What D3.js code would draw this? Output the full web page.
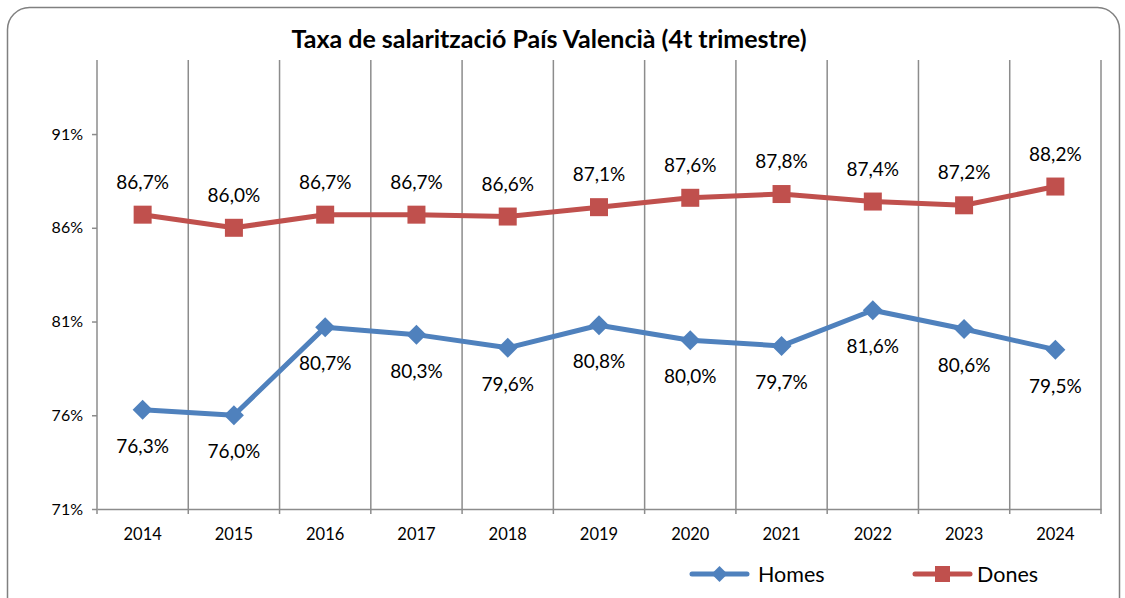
<!DOCTYPE html>
<html>
<head>
<meta charset="utf-8">
<script src="https://cdn.jsdelivr.net/npm/d3@7"></script>
<style>
  body { margin: 0; background: #fff; }
  svg { display: block; font-family: Lato, "Open Sans", sans-serif; }
</style>
</head>
<body>
<svg id="chart" width="1125" height="598"></svg>
<script>
// data
const years = ['2014', '2015', '2016', '2017', '2018', '2019', '2020', '2021', '2022', '2023', '2024']
const homes = [76.3, 76.0, 80.7, 80.3, 79.6, 80.8, 80.0, 79.7, 81.6, 80.6, 79.5]
const dones = [86.7, 86.0, 86.7, 86.7, 86.6, 87.1, 87.6, 87.8, 87.4, 87.2, 88.2]
const yTicks = [71, 76, 81, 86, 91]
const title = 'Taxa de salarització País Valencià (4t trimestre)'

const blue = '#4f81bd', red = '#c0504d', grid = '#8c8c8c'

let svg = d3.select('svg#chart')

// outer frame
svg.append('rect')
  .attr('x', 7.5).attr('y', 7.5)
  .attr('width', 1112).attr('height', 620)
  .attr('rx', 22)
  .attr('fill', 'none')
  .attr('stroke', '#808080')
  .attr('stroke-width', 1.5)

svg.append('text')
  .attr('x', 549).attr('y', 48)
  .attr('text-anchor', 'middle')
  .attr('font-weight', 'bold')
  .attr('font-size', 25)
  .text(title)

let x = d3.scaleBand().domain(years).range([97, 1101])
let y = d3.scaleLinear().domain([71, 94.95]).range([509, 60])
let cx = d => x(d) + x.bandwidth() / 2

// vertical grid lines at category boundaries
svg.append('g')
  .selectAll('line')
  .data(years)
  .enter()
  .append('line')
  .attr('x1', d => x(d) + x.bandwidth())
  .attr('x2', d => x(d) + x.bandwidth())
  .attr('y1', 60).attr('y2', 514)
  .attr('stroke', grid).attr('stroke-width', 1.5)

// y axis
let yAxis = svg.append('g')
  .attr('transform', 'translate(97,0)')
  .call(d3.axisLeft(y).tickValues(yTicks).tickSize(5).tickFormat(d => d + '%'))
yAxis.select('.domain').attr('stroke', grid).attr('stroke-width', 1.5).attr('d', 'M0,60V514')
yAxis.selectAll('.tick line').attr('stroke', grid).attr('stroke-width', 1.5)
yAxis.selectAll('.tick text').attr('font-size', 16).attr('font-family', 'Lato, sans-serif').attr('fill', '#000').attr('x', -14)

// x axis
let xAxis = svg.append('g')
  .attr('transform', 'translate(0,509)')
  .call(d3.axisBottom(x).tickSize(0))
xAxis.select('.domain').attr('stroke', grid).attr('stroke-width', 1.5)
xAxis.selectAll('.tick text').attr('font-size', 16.5).attr('font-family', 'Lato, sans-serif').attr('fill', '#000').attr('dy', 0).attr('y', 31)

let line = d3.line().x((d, i) => cx(years[i])).y(d => y(d))

let fmt = v => d3.format('.1f')(v).replace('.', ',') + '%'

// Dones
svg.append('path').datum(dones)
  .attr('d', line).attr('fill', 'none')
  .attr('stroke', red).attr('stroke-width', 5).attr('stroke-linejoin', 'round')
svg.append('g').selectAll('rect').data(dones).enter().append('rect')
  .attr('x', (d, i) => cx(years[i]) - 9)
  .attr('y', d => y(d) - 9)
  .attr('width', 18).attr('height', 18)
  .attr('fill', red)
svg.append('g').selectAll('text').data(dones).enter().append('text')
  .attr('x', (d, i) => cx(years[i]))
  .attr('y', d => y(d) - 26)
  .attr('text-anchor', 'middle').attr('font-size', 19)
  .text(fmt)

// Homes
svg.append('path').datum(homes)
  .attr('d', line).attr('fill', 'none')
  .attr('stroke', blue).attr('stroke-width', 5).attr('stroke-linejoin', 'round')
svg.append('g').selectAll('path').data(homes).enter().append('path')
  .attr('transform', (d, i) => `translate(${cx(years[i])},${y(d)})`)
  .attr('d', 'M0,-10L10,0L0,10L-10,0Z')
  .attr('fill', blue)
svg.append('g').selectAll('text').data(homes).enter().append('text')
  .attr('x', (d, i) => cx(years[i]))
  .attr('y', d => y(d) + 43)
  .attr('text-anchor', 'middle').attr('font-size', 19)
  .text(fmt)

// legend
let legend = [
  { name: 'Homes', color: blue, x: 692, shape: 'diamond' },
  { name: 'Dones', color: red, x: 915, shape: 'square' }
]
let lg = svg.append('g').selectAll('g').data(legend).enter().append('g')
  .attr('transform', d => `translate(${d.x},574)`)
lg.append('line')
  .attr('x1', 0).attr('x2', 55).attr('y1', 0).attr('y2', 0)
  .attr('stroke', d => d.color).attr('stroke-width', 5).attr('stroke-linecap', 'round')
lg.append('path')
  .attr('d', d => d.shape == 'diamond' ? 'M27.5,-8L35.5,0L27.5,8L19.5,0Z' : 'M20,-8H35V8H20Z')
  .attr('fill', d => d.color)
lg.append('text')
  .attr('x', d => d.shape == 'diamond' ? 66 : 62)
  .attr('y', 8)
  .attr('font-size', 21.5)
  .text(d => d.name)
</script>
</body>
</html>
